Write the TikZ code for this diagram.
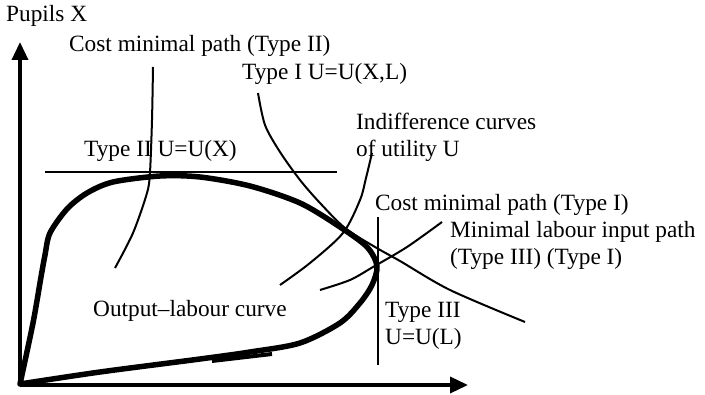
\documentclass[tikz,border=0pt]{standalone}
\usepackage{fontspec}
\setmainfont{Liberation Serif}
\usetikzlibrary{arrows.meta}
\begin{document}
\begin{tikzpicture}[x=1pt,y=-1pt,
  lbl/.style={inner sep=0pt, anchor=base west, font=\fontsize{23.3}{27}\selectfont, align=left},
  axisline/.style={line width=3.5pt, -{Triangle[length=18pt,width=16pt]}},
  olcurve/.style={line width=5.5pt, line join=round, line cap=round},
  pathline/.style={line width=2pt},
]
\useasboundingbox (0,0) rectangle (705,395);
% axes
\coordinate (O) at (20,385);
\coordinate (ytip) at (20,42);
\coordinate (xtip) at (468,385);
\draw[axisline] (O) -- (ytip);
\draw[axisline] (O) -- (xtip);
% labels (multi-line nodes: base is the last line)
\node[lbl] (pupils) at (6,22) {Pupils X};
\node[lbl] (cm2) at (69,52) {Cost minimal path (Type II)};
\node[lbl] (t1) at (242,80) {Type I U=U(X,L)};
\node[lbl] (t2) at (84,157) {Type II U=U(X)};
\node[lbl] (ind) at (356,157) {Indifference curves\\of utility U};
\node[lbl] (cm1) at (375,211) {Cost minimal path (Type I)};
\node[lbl] (mli) at (450,265) {Minimal labour input path\\(Type III) (Type I)};
\node[lbl] (t3) at (385,345) {Type III\\U=U(L)};
\node[lbl] (olc) at (93,317) {Output--labour curve};
% output-labour curve
\draw[olcurve] plot[smooth, tension=0.5] coordinates {(20,384) (33,323) (41,277) (45,255) (50,233) (67,209) (87,193) (113,182) (160,176) (200,177) (250,186) (300,203) (340,227) (367,247) (377,266) (372,285) (360,303) (340,323) (300,343) (250,352) (200,359) (100,372) (20,384)};
\draw[line width=4pt] (212,361) -- (272,354);
% Type II indifference line
\coordinate (h1) at (45,172.5);
\coordinate (h2) at (337,172.5);
\draw[pathline] (h1) -- (h2);
% Type III indifference line
\coordinate (v1) at (378,217);
\coordinate (v2) at (378,365);
\draw[pathline] (v1) -- (v2);
% cost minimal path type II
\draw[pathline] plot[smooth] coordinates {(153,67) (152,120) (150,172) (147,193) (133,233) (115,268)};
% Type I indifference curve
\draw[pathline] plot[smooth] coordinates {(258,93) (265,125) (280,152) (300,180) (320,203) (345,228) (375,247) (400,261) (450,290) (525,322)};
% indifference label line
\draw[pathline] plot[smooth] coordinates {(372,153) (366,178) (360,200) (343,233) (310,263) (280,285)};
% minimal labour input line
\draw[pathline] plot[smooth] coordinates {(320,290) (350,280) (373,267) (407,247) (442,222)};
\end{tikzpicture}
\end{document}
